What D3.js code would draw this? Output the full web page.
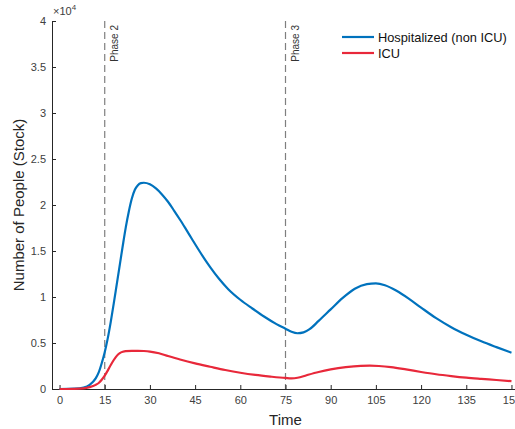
<!DOCTYPE html>
<html><head><meta charset="utf-8">
<script src="https://cdn.jsdelivr.net/npm/d3@7"></script>
<style>
body{margin:0;background:#fff;}
svg{display:block;font-family:"Liberation Sans",Arial,Helvetica,sans-serif;}
</style></head>
<body>
<svg id="chart" width="515" height="429"></svg>
<script>
const time = [0,5,8,10,12,13,14,15,16,17,18,19,20,21,22,23,24,25,26,27,28,30,32,34,36,38,40,42,44,46,48,50,53,56,60,64,68,72,75,77,79,81,83,86,90,94,98,102,105,108,112,116,120,125,130,135,140,145,150];
const hospitalized = [0,40,160,450,1150,1800,2800,4000,5500,7300,9300,11400,13500,15600,17600,19300,20700,21650,22150,22380,22420,22250,21800,21150,20350,19400,18400,17350,16280,15220,14200,13250,11950,10850,9700,8750,7850,7050,6550,6220,6060,6150,6500,7400,8650,9900,10900,11400,11480,11280,10650,9800,8850,7700,6720,5900,5180,4550,3950];
const timeICU = [0,5,8,10,12,13,14,15,16,17,18,19,20,21,22,24,26,28,30,33,36,40,45,50,55,60,65,70,75,77,79,82,86,90,95,100,103,106,110,115,120,125,130,135,140,145,150];
const icu = [0,10,60,200,450,650,1000,1450,2000,2600,3150,3600,3900,4050,4120,4150,4150,4130,4070,3880,3580,3200,2780,2420,2070,1770,1530,1350,1200,1160,1220,1500,1850,2130,2380,2520,2540,2500,2380,2130,1850,1600,1400,1230,1100,980,850];
const xTicks = [0,15,30,45,60,75,90,105,120,135,150];
const yTicks = [0,5000,10000,15000,20000,25000,30000,35000,40000];
const phases = [{t:15,label:"Phase 2"},{t:75,label:"Phase 3"}];
const seriesNames = ["Hospitalized (non ICU)","ICU"];
const colors = ["#0072bd","#e8283a"];

const svg = d3.select("#chart");
const x = d3.scaleLinear().domain([-2.5,152.5]).range([52,519]);
const y = d3.scaleLinear().domain([0,40000]).range([389,21]);
const axisColor = "#262626";

// phase lines
phases.forEach(p=>{
  svg.append("line").attr("x1",x(p.t)).attr("x2",x(p.t)).attr("y1",y(40000)).attr("y2",y(0))
    .attr("stroke","#7f7f7f").attr("stroke-width",1.2).attr("stroke-dasharray","7,4");
  svg.append("text").attr("transform",`translate(${x(p.t)+13},${y(40000)+4}) rotate(-90)`)
    .attr("text-anchor","end").attr("font-size",10).attr("fill","#333").text(p.label);
});

// axes
const xAxis = svg.append("g").attr("transform",`translate(0,${y(0)})`)
  .call(d3.axisBottom(x).tickValues(xTicks).tickFormat(d3.format("d")).tickSizeInner(-4).tickSizeOuter(0).tickPadding(7));
const yAxis = svg.append("g").attr("transform",`translate(${x(-2.5)},0)`)
  .call(d3.axisLeft(y).tickValues(yTicks).tickFormat(d=>d3.format("~g")(d/1e4)).tickSizeInner(-4).tickSizeOuter(0).tickPadding(6));
[xAxis,yAxis].forEach(g=>{
  g.select(".domain").attr("stroke",axisColor).attr("stroke-width",1);
  g.selectAll(".tick line").attr("stroke",axisColor);
  g.selectAll(".tick text").attr("fill","#404040").attr("font-size",11).attr("font-family","Liberation Sans, Arial, sans-serif");
});

// x10^4
const mult = svg.append("text").attr("x",53).attr("y",15).attr("font-size",11).attr("fill","#404040");
mult.append("tspan").text("\u00d710");
mult.append("tspan").attr("dy",-5).attr("font-size",8).text("4");

// axis labels
svg.append("text").attr("x",x(75)).attr("y",425).attr("text-anchor","middle").attr("font-size",15).attr("fill",axisColor).text("Time");
svg.append("text").attr("transform",`translate(24,${(y(0)+y(40000))/2}) rotate(-90)`).attr("text-anchor","middle")
  .attr("font-size",15).attr("fill",axisColor).text("Number of People (Stock)");

// lines
const line = d3.line().curve(d3.curveMonotoneX);
svg.append("path").attr("d",line(time.map((t,i)=>[x(t),y(hospitalized[i])])))
  .attr("fill","none").attr("stroke",colors[0]).attr("stroke-width",2.2).attr("stroke-linejoin","round");
svg.append("path").attr("d",line(timeICU.map((t,i)=>[x(t),y(icu[i])])))
  .attr("fill","none").attr("stroke",colors[1]).attr("stroke-width",2.2).attr("stroke-linejoin","round");

// legend
seriesNames.forEach((n,i)=>{
  const ly = 37 + i*16;
  svg.append("line").attr("x1",342).attr("x2",374).attr("y1",ly).attr("y2",ly).attr("stroke",colors[i]).attr("stroke-width",2.2);
  svg.append("text").attr("x",378).attr("y",ly+4.5).attr("font-size",12.8).attr("fill","#111").text(n);
});
</script>
</body></html>
